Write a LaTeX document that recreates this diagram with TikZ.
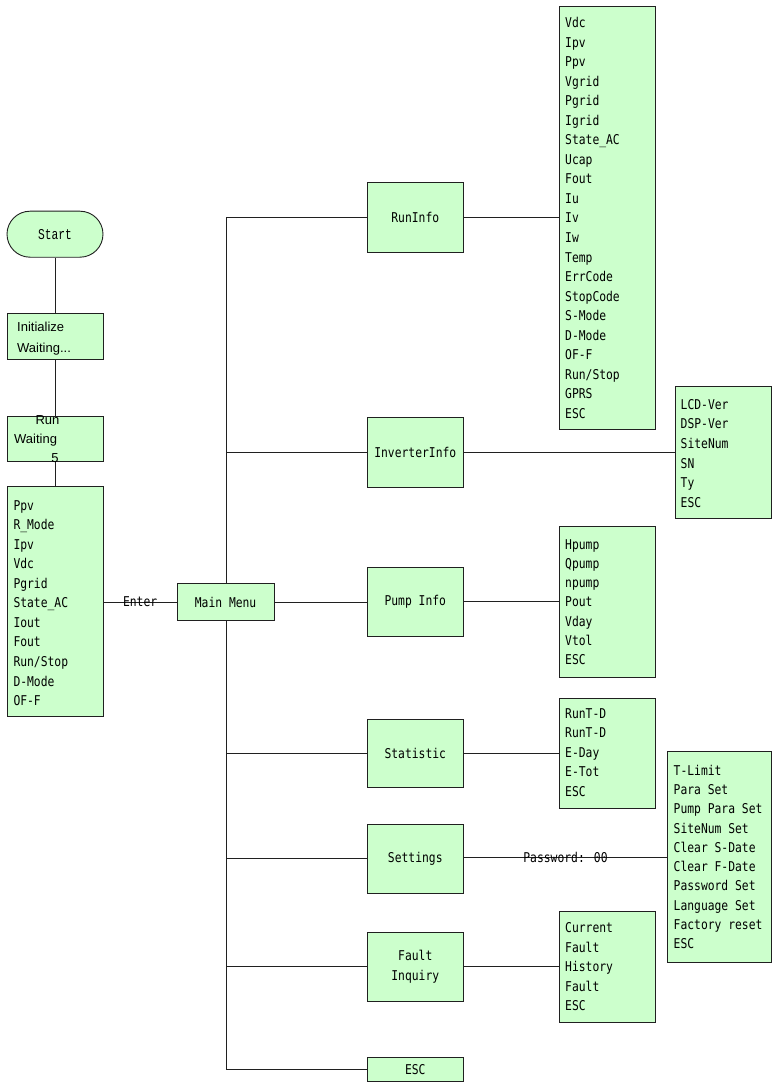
\documentclass[tikz,border=0pt]{standalone}
\usepackage{fontspec}
\setmainfont{Liberation Sans}
\newfontfamily\lcdfont[FakeStretch=0.84]{DejaVu Sans Mono}
\newfontfamily\startfont[FakeStretch=0.75]{Liberation Mono}
\usetikzlibrary{backgrounds,calc}
\definecolor{boxfill}{HTML}{CCFFCC}
\definecolor{edge}{HTML}{202020}
\begin{document}
\begin{tikzpicture}[x=1pt,y=-1pt,
  box/.style={draw=edge, line width=0.9pt, fill=boxfill, inner sep=0pt, minimum width=96pt, align=center, font=\lcdfont\fontsize{13.5}{20}\selectfont},
  item/.style={anchor=base west, inner sep=0pt, font=\lcdfont\fontsize{13.5}{16}\selectfont},
  sanstext/.style={inner sep=0pt, font=\fontsize{13}{16}\selectfont},
  conn/.style={draw=edge, line width=0.9pt},
  lbl/.style={inner sep=0pt, font=\lcdfont\fontsize{13.5}{16}\selectfont}]
\useasboundingbox (0,0) rectangle (776,1083);

% left column
\node[box, rounded corners=23pt, minimum height=46pt, font=\startfont\fontsize{15}{18}\selectfont] (start) at (55,234.2) {Start};
\node[box, minimum height=46pt] (init) at (55,336.3) {};
\node[sanstext, anchor=base west] (initA) at (17,331) {Initialize};
\node[sanstext, anchor=base west] (initB) at (17,352) {Waiting...};
\node[box, minimum height=45.7pt] (run) at (55,438.8) {};
\node[sanstext, anchor=base] (runA) at (47.5,424.5) {Run};
\node[sanstext, anchor=base west] (runB) at (14,443) {Waiting};
\node[sanstext, anchor=base] (runC) at (55,462.5) {5};
\node[box, minimum height=230pt] (ll) at (55,601.8) {};
\foreach \t [count=\i] in {Ppv,R\_Mode,Ipv,Vdc,Pgrid,State\_AC,Iout,Fout,Run/Stop,D-Mode,OF-F}
  \node[item] (ll-\i) at (13.3,{510+19.57*(\i-1)}) {\t};

% main menu
\node[box, minimum width=96.7pt, minimum height=37.4pt] (main) at (225.6,602) {Main Menu};

% menu boxes
\node[box, minimum height=69.6pt] (runinfo) at (415.3,217.5) {RunInfo};
\node[box, minimum height=70pt] (inv) at (415.3,452) {InverterInfo};
\node[box, minimum height=69pt] (pump) at (415.3,602.2) {Pump Info};
\node[box, minimum height=68.7pt] (stat) at (415.3,753.3) {Statistic};
\node[box, minimum height=69pt] (set) at (415.3,858.5) {Settings};
\node[box, minimum height=69.7pt] (fault) at (415.3,966.8) {Fault\\Inquiry};
\node[box, minimum height=24pt] (esc) at (415.3,1069.3) {ESC};

% list boxes
\node[box, minimum width=96.4pt, minimum height=423pt] (rl) at (607.5,217.5) {};
\foreach \t [count=\i] in {Vdc,Ipv,Ppv,Vgrid,Pgrid,Igrid,State\_AC,Ucap,Fout,Iu,Iv,Iw,Temp,ErrCode,StopCode,S-Mode,D-Mode,OF-F,Run/Stop,GPRS,ESC}
  \node[item] (rl-\i) at (565,{28+19.5*(\i-1)}) {\t};

\node[box, minimum width=96pt, minimum height=132pt] (il) at (723,452) {};
\foreach \t [count=\i] in {LCD-Ver,DSP-Ver,SiteNum,SN,Ty,ESC}
  \node[item] (il-\i) at (680.5,{409+19.7*(\i-1)}) {\t};

\node[box, minimum width=96.4pt, minimum height=151.7pt] (pl) at (607.5,601.8) {};
\foreach \t [count=\i] in {Hpump,Qpump,npump,Pout,Vday,Vtol,ESC}
  \node[item] (pl-\i) at (565,{549+19.33*(\i-1)}) {\t};

\node[box, minimum width=96.4pt, minimum height=110pt] (stl) at (607.5,753) {};
\foreach \t [count=\i] in {RunT-D,RunT-D,E-Day,E-Tot,ESC}
  \node[item] (stl-\i) at (565,{718+19.6*(\i-1)}) {\t};

\node[box, minimum width=104pt, minimum height=211pt] (sl) at (719.7,857.2) {};
\foreach \t [count=\i] in {T-Limit,Para Set,Pump Para Set,SiteNum Set,Clear S-Date,Clear F-Date,Password Set,Language Set,Factory reset,ESC}
  \node[item] (sl-\i) at (673.5,{775+19.33*(\i-1)}) {\t};

\node[box, minimum width=96.4pt, minimum height=110.3pt] (fl) at (607.5,966.9) {};
\foreach \t [count=\i] in {Current,Fault,History,Fault,ESC}
  \node[item] (fl-\i) at (565,{932.7+19.5*(\i-1)}) {\t};

% connectors
\begin{scope}[on background layer]
\coordinate (tr) at (226,0);
\draw[conn] (start) -- (init);
\draw[conn] (init) -- (run);
\draw[conn] (run) -- (ll);
\draw[conn] (ll.east |- main.west) -- node[lbl] (enter) {Enter} (main.west);
\draw[conn] (runinfo.west) -| (tr |- esc.west) -- (esc.west);
\foreach \n in {inv,stat,set,fault}
  \draw[conn] (\n.west) -- (\n.west -| tr);
\draw[conn] (main.east) -- (main.east -| pump.west);
\draw[conn] (runinfo.east) -- (runinfo.east -| rl.west);
\draw[conn] (inv.east) -- (inv.east -| il.west);
\draw[conn] (pump.east |- pl.west) -- (pl.west);
\draw[conn] (stat.east) -- (stat.east -| stl.west);
\draw[conn] (set.east |- sl.west) -- node[lbl] (pw) {Password: 00} (sl.west);
\draw[conn] (fault.east) -- (fault.east -| fl.west);
\end{scope}
\end{tikzpicture}
\end{document}
